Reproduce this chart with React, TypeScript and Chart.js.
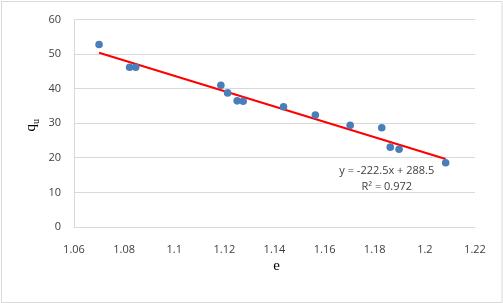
import React, { useEffect, useRef } from "react";
import { Chart, registerables } from "chart.js";

Chart.register(...registerables);

const eValues = [1.070, 1.0822, 1.0846, 1.1186, 1.1213, 1.1251, 1.1275, 1.1436, 1.1563, 1.1702, 1.1828, 1.1862, 1.1897, 1.2083];
const quValues = [52.8, 46.2, 46.2, 41.0, 38.8, 36.5, 36.4, 34.8, 32.4, 29.4, 28.7, 23.1, 22.5, 18.6];
const xTicks = [1.06, 1.08, 1.1, 1.12, 1.14, 1.16, 1.18, 1.2, 1.22];
const yTicks = [0, 10, 20, 30, 40, 50, 60];
const slope = -222.5;
const intercept = 288.5;
const eqLines = ["y = -222.5x + 288.5", "R\u00B2 = 0.972"];
const eqAnchor = { x: 1.1848, y: 16.1 };

export default function App() {
  const ref = useRef<HTMLCanvasElement>(null);
  useEffect(() => {
    document.body.style.margin = "0";
    const ctx = ref.current!;
    const xMin = Math.min(...eValues);
    const xMax = Math.max(...eValues);
    const trend = [
      { x: xMin, y: slope * xMin + intercept },
      { x: xMax, y: slope * xMax + intercept },
    ];
    const deco = {
      id: "deco",
      beforeDraw(chart: any) {
        const c = chart.ctx;
        c.save();
        c.fillStyle = "#ffffff";
        c.fillRect(0, 0, chart.width, chart.height);
        c.strokeStyle = "#d9d9d9";
        c.lineWidth = 1;
        c.strokeRect(1.5, 1.5, chart.width - 2.5, chart.height - 2);
        c.restore();
      },
      afterDraw(chart: any) {
        const c = chart.ctx;
        const a = chart.chartArea;
        const xs = chart.scales.x;
        const ys = chart.scales.y;
        c.save();
        // y title q_u
        c.fillStyle = "#000";
        c.translate(33, (a.top + a.bottom) / 2 + 2);
        c.rotate(-Math.PI / 2);
        c.textBaseline = "middle";
        c.textAlign = "left";
        c.font = "15px 'Liberation Serif'";
        const qw = c.measureText("q").width;
        const uFont = "10px 'Liberation Serif'";
        c.font = uFont;
        const uw = c.measureText("u").width;
        const tot = qw + uw;
        c.font = "15px 'Liberation Serif'";
        c.fillText("q", -tot / 2, -2);
        c.font = uFont;
        c.fillText("u", -tot / 2 + qw, 3);
        c.restore();
        // x title
        c.save();
        c.fillStyle = "#000";
        c.font = "15px 'Liberation Serif'";
        c.textAlign = "center";
        c.textBaseline = "middle";
        c.fillText("e", (a.left + a.right) / 2 + 2, 266);
        c.restore();
        // equation
        c.save();
        c.fillStyle = "#404040";
        c.font = "11px 'Open Sans'";
        c.textAlign = "center";
        c.textBaseline = "middle";
        const px = xs.getPixelForValue(eqAnchor.x);
        const py = ys.getPixelForValue(eqAnchor.y);
        c.fillText(eqLines[0], px, py);
        c.fillText(eqLines[1], px, py + 16);
        c.restore();
      },
    };
    const chart = new Chart(ctx, {
      type: "scatter",
      data: {
        datasets: [
          {
            type: "line",
            data: trend,
            borderColor: "#ff0000",
            borderWidth: 2,
            pointRadius: 0,
            fill: false,
            order: 2,
          } as any,
          {
            data: eValues.map((x, i) => ({ x, y: quValues[i] })),
            backgroundColor: "#4a7ebb",
            borderColor: "#4a7ebb",
            pointRadius: 3.8,
            borderWidth: 0,
            order: 1,
          },
        ],
      },
      options: {
        animation: false,
        responsive: false,
        layout: { padding: { top: 17, left: 0, right: 28, bottom: 0 } },
        plugins: { legend: { display: false }, tooltip: { enabled: false } },
        scales: {
          x: {
            type: "linear",
            min: xTicks[0],
            max: xTicks[xTicks.length - 1],
            afterBuildTicks: (s: any) => {
              s.ticks = xTicks.map((v) => ({ value: v }));
            },
            afterFit: (s: any) => {
              s.height = 76;
            },
            grid: { display: false, drawTicks: false },
            border: { display: false },
            ticks: {
              padding: 16,
              color: "#404040",
              font: { family: "'Open Sans'", size: 11 },
              callback: (v: any) => String(Number(Number(v).toFixed(2))),
              maxRotation: 0,
            },
          },
          y: {
            min: yTicks[0],
            max: yTicks[yTicks.length - 1],
            afterBuildTicks: (s: any) => {
              s.ticks = yTicks.map((v) => ({ value: v }));
            },
            afterFit: (s: any) => {
              s.width = 74;
            },
            grid: { color: "#d9d9d9", lineWidth: 1, drawTicks: false },
            border: { display: true, color: "#d9d9d9", width: 1 },
            ticks: {
              padding: 13,
              color: "#404040",
              font: { family: "'Open Sans'", size: 11 },
            },
          },
        },
      },
      plugins: [deco],
    });
    return () => chart.destroy();
  }, []);
  return (
    <div style={{ width: 503, height: 303 }}>
      <canvas ref={ref} width={503} height={303} />
    </div>
  );
}
